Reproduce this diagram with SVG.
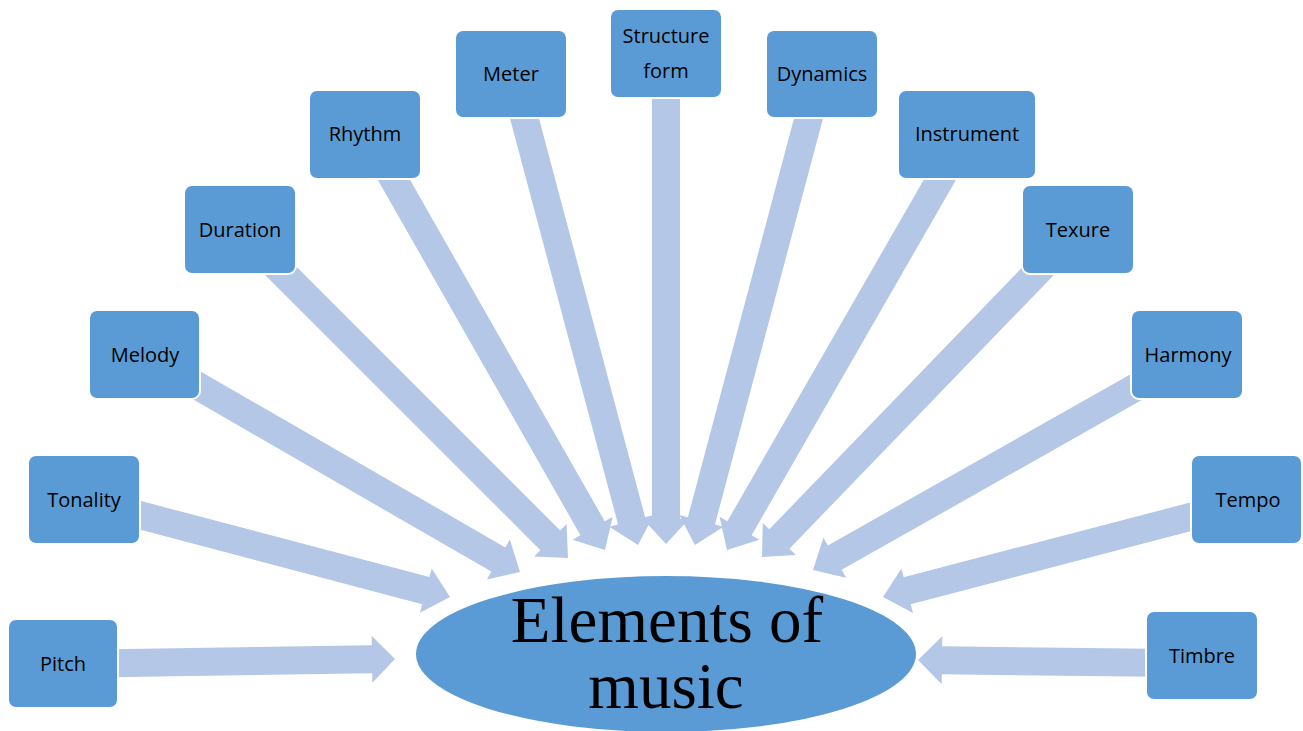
<svg xmlns="http://www.w3.org/2000/svg" width="1303" height="731" viewBox="0 0 1303 731">
<style>
.arrow{fill:#B4C7E7;stroke:none}
.box{fill:#5B9BD5;stroke:#FFFFFF;stroke-width:2}
.lbl{font-family:"Open Sans","Liberation Sans",sans-serif;font-size:20px;fill:#000;text-anchor:middle}
.big{font-family:"Liberation Serif","Times New Roman",serif;font-size:65px;fill:#000;text-anchor:middle}
</style>
<rect width="1303" height="731" fill="#FFFFFF"/>
<g id="connectors">
<path class="arrow" transform="translate(395,659) rotate(-0.84)" d="M -285,-14 H -23 V -23.5 L 0,0 L -23,23.5 V 14 H -285 Z"/>
<path class="arrow" transform="translate(450,597) rotate(14.78)" d="M -330,-14 H -25 V -23 L 0,0 L -25,23 V 14 H -330 Z"/>
<path class="arrow" transform="translate(520,572) rotate(30)" d="M -385,-14 H -25 V -23 L 0,0 L -25,23 V 14 H -385 Z"/>
<path class="arrow" transform="translate(568,558) rotate(45)" d="M -420,-14 H -25 V -23 L 0,0 L -25,23 V 14 H -420 Z"/>
<path class="arrow" transform="translate(605,550) rotate(60.3)" d="M -440,-14 H -25 V -23 L 0,0 L -25,23 V 14 H -440 Z"/>
<path class="arrow" transform="translate(638,545) rotate(75.1)" d="M -450,-14 H -25 V -23 L 0,0 L -25,23 V 14 H -450 Z"/>
<path class="arrow" transform="translate(666,544) rotate(90)" d="M -454,-14 H -25 V -23 L 0,0 L -25,23 V 14 H -454 Z"/>
<path class="arrow" transform="translate(695,545) rotate(104.9)" d="M -450,-14 H -25 V -23 L 0,0 L -25,23 V 14 H -450 Z"/>
<path class="arrow" transform="translate(727,550) rotate(119.9)" d="M -438,-14 H -25 V -23 L 0,0 L -25,23 V 14 H -438 Z"/>
<path class="arrow" transform="translate(762,557) rotate(134)" d="M -406,-14 H -25 V -23 L 0,0 L -25,23 V 14 H -406 Z"/>
<path class="arrow" transform="translate(813,570) rotate(150.5)" d="M -381,-14 H -25 V -23 L 0,0 L -25,23 V 14 H -381 Z"/>
<path class="arrow" transform="translate(883,597) rotate(165.4)" d="M -328,-14 H -25 V -23 L 0,0 L -25,23 V 14 H -328 Z"/>
<path class="arrow" transform="translate(918,660) rotate(180.7)" d="M -235,-14 H -24 V -24 L 0,0 L -24,24 V 14 H -235 Z"/>
</g>
<g id="center">
<ellipse cx="666" cy="654" rx="251" ry="79" fill="#5B9BD5" stroke="#FFFFFF" stroke-width="2"/>
<text class="big" x="667" y="642">Elements of</text>
<text class="big" x="666" y="708">music</text>
</g>
<g id="pitch"><rect class="box" x="8" y="619" width="110" height="89" rx="8"/><text class="lbl" x="63" y="671">Pitch</text></g>
<g id="tonality"><rect class="box" x="28" y="455" width="112" height="89" rx="8"/><text class="lbl" x="84" y="507">Tonality</text></g>
<g id="melody"><rect class="box" x="89" y="310" width="111" height="89" rx="8"/><text class="lbl" x="145" y="362">Melody</text></g>
<g id="duration"><rect class="box" x="184" y="185" width="112" height="89" rx="8"/><text class="lbl" x="240" y="237">Duration</text></g>
<g id="rhythm"><rect class="box" x="309" y="90" width="112" height="89" rx="8"/><text class="lbl" x="365" y="141">Rhythm</text></g>
<g id="meter"><rect class="box" x="455" y="30" width="112" height="88" rx="8"/><text class="lbl" x="511" y="81">Meter</text></g>
<g id="structure"><rect class="box" x="610" y="9" width="112" height="89" rx="8"/><text class="lbl" x="666" y="43">Structure</text><text class="lbl" x="666" y="78">form</text></g>
<g id="dynamics"><rect class="box" x="766" y="30" width="112" height="88" rx="8"/><text class="lbl" x="822" y="81">Dynamics</text></g>
<g id="instrument"><rect class="box" x="898" y="90" width="138" height="89" rx="8"/><text class="lbl" x="967" y="141">Instrument</text></g>
<g id="texure"><rect class="box" x="1022" y="185" width="112" height="89" rx="8"/><text class="lbl" x="1078" y="237">Texure</text></g>
<g id="harmony"><rect class="box" x="1131" y="310" width="112" height="89" rx="8"/><text class="lbl" x="1188" y="362">Harmony</text></g>
<g id="tempo"><rect class="box" x="1191" y="455" width="111" height="89" rx="8"/><text class="lbl" x="1248" y="507">Tempo</text></g>
<g id="timbre"><rect class="box" x="1146" y="611" width="112" height="89" rx="8"/><text class="lbl" x="1202" y="663">Timbre</text></g>
</svg>
